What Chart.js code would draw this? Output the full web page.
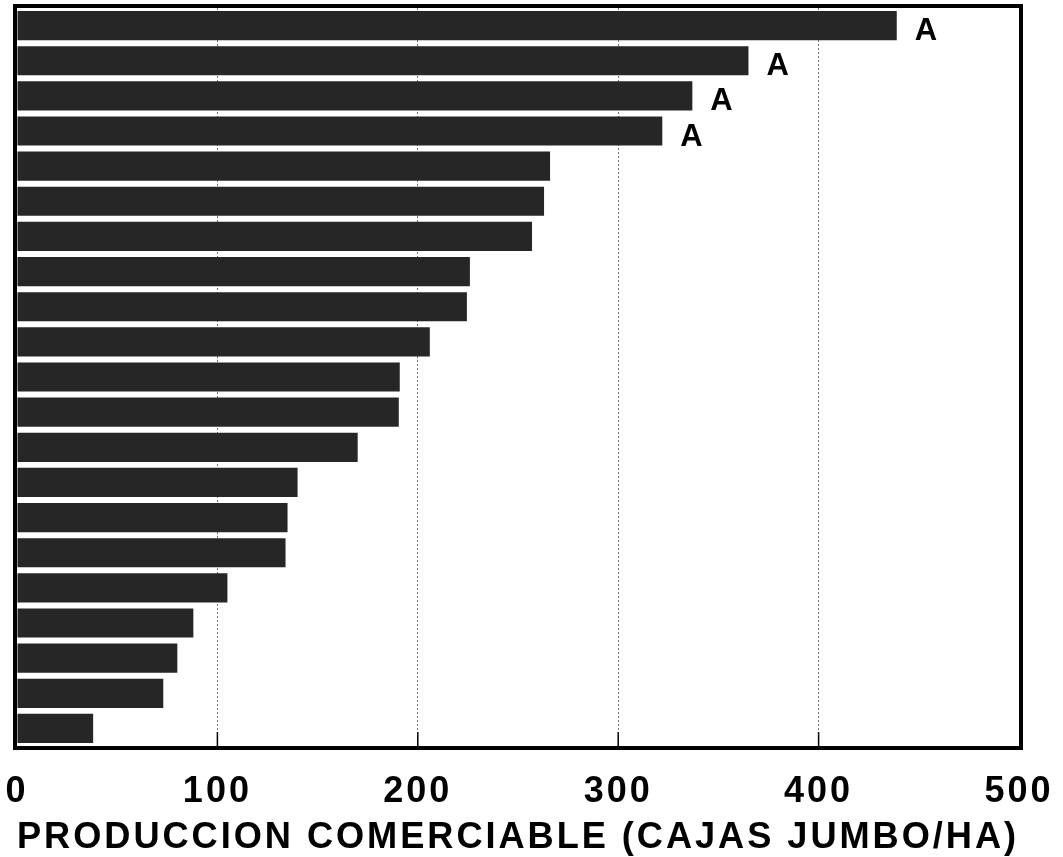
<!DOCTYPE html>
<html lang="es">
<head>
<meta charset="utf-8">
<title>Produccion comerciable</title>
<script src="https://cdn.jsdelivr.net/npm/chart.js@4.4.1/dist/chart.umd.min.js"></script>
<style>
  html, body { margin: 0; padding: 0; background: #fff; }
  #wrap { width: 1063px; height: 857px; position: relative; }
</style>
</head>
<body>
<div id="wrap"><canvas id="grafico"></canvas></div>
<script>
// tratamientos (sin nombre en la figura), de arriba hacia abajo
const tratamientos = ['1', '2', '3', '4', '5', '6', '7', '8', '9', '10', '11',
  '12', '13', '14', '15', '16', '17', '18', '19', '20', '21'];
// cajas jumbo por hectarea
const produccion = [439, 365, 337, 322, 266, 263, 257, 226, 224.5, 206, 191,
  190.5, 170, 140, 135, 134, 105, 88, 80, 73, 38];
// letras de separacion de medias
const letras = ['A', 'A', 'A', 'A', '', '', '', '', '', '', '',
  '', '', '', '', '', '', '', '', '', ''];
const ticksX = [0, 100, 200, 300, 400, 500];
const tituloX = 'PRODUCCION COMERCIABLE (CAJAS JUMBO/HA)';

const fuente = "'Liberation Sans', Arial, Helvetica, sans-serif";

// espaciado de letras para los textos de los ejes
const espaciado = {
  id: 'espaciado',
  beforeDraw(chart) { chart.ctx.letterSpacing = '3px'; },
  beforeDatasetsDraw(chart) { chart.ctx.letterSpacing = '0px'; }
};

// marco grueso y marcas interiores del eje
const marco = {
  id: 'marco',
  afterDatasetsDraw(chart) {
    const { ctx, chartArea: a, scales } = chart;
    ctx.save();
    ctx.strokeStyle = '#000';
    ctx.lineWidth = 1.5;
    ticksX.slice(1, -1).forEach(v => {
      const x = scales.x.getPixelForValue(v);
      ctx.beginPath();
      ctx.moveTo(x, a.bottom);
      ctx.lineTo(x, a.bottom - 14);
      ctx.stroke();
    });
    ctx.lineWidth = 4;
    ctx.strokeRect(a.left - 2, a.top - 2, a.right - a.left + 4, a.bottom - a.top + 4);
    ctx.restore();
  }
};

// letras a la derecha de cada barra
const etiquetas = {
  id: 'etiquetas',
  afterDatasetsDraw(chart) {
    const { ctx } = chart;
    const meta = chart.getDatasetMeta(0);
    ctx.save();
    ctx.letterSpacing = '0px';
    ctx.font = 'bold 31px ' + fuente;
    ctx.fillStyle = '#000';
    ctx.textAlign = 'left';
    ctx.textBaseline = 'middle';
    meta.data.forEach((bar, i) => {
      if (!letras[i]) return;
      ctx.fillText(letras[i], bar.x + 18, bar.y + 6);
    });
    ctx.restore();
  }
};

new Chart(document.getElementById('grafico'), {
  type: 'bar',
  data: {
    labels: tratamientos,
    datasets: [{
      data: produccion,
      backgroundColor: '#262626',
      borderWidth: 0,
      barPercentage: 0.83,
      categoryPercentage: 1
    }]
  },
  options: {
    indexAxis: 'y',
    responsive: true,
    maintainAspectRatio: false,
    animation: false,
    layout: { padding: { left: 17, right: 44, top: 8, bottom: 0 } },
    plugins: {
      legend: { display: false },
      tooltip: { enabled: false }
    },
    scales: {
      x: {
        type: 'linear',
        min: 0,
        max: 500,
        afterBuildTicks(scale) { scale.ticks = ticksX.map(v => ({ value: v })); },
        grid: {
          drawTicks: false,
          color: ctx => (ctx.tick && (ctx.tick.value === 0 || ctx.tick.value === 500)) ? 'rgba(0,0,0,0)' : '#777',
          lineWidth: 1
        },
        border: { display: false, dash: [2, 2] },
        ticks: {
          padding: 0,
          color: '#000',
          font: { family: fuente, size: 36, weight: 'bold', lineHeight: 2.583 }
        },
        title: {
          display: true,
          text: tituloX,
          color: '#000',
          padding: { top: -20, bottom: 1 },
          font: { family: fuente, size: 37, weight: 'bold', lineHeight: 1 }
        }
      },
      y: {
        display: false,
        grid: { display: false }
      }
    }
  },
  plugins: [espaciado, marco, etiquetas]
});
</script>
</body>
</html>
